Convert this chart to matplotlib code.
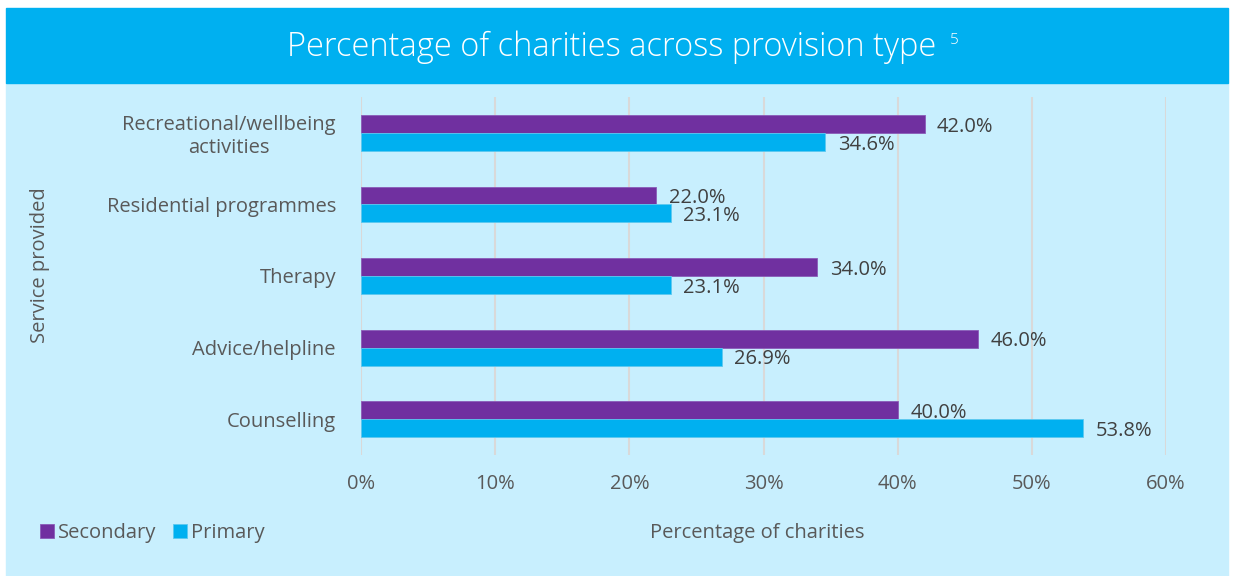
import matplotlib as mpl
import matplotlib.pyplot as plt
import numpy as np
from matplotlib.patches import Rectangle

mpl.rcParams["font.family"] = ["Open Sans", "DejaVu Sans"]

# -------------------------------------
# Data
# -------------------------------------

services = [
    "Recreational/wellbeing\nactivities",
    "Residential programmes",
    "Therapy",
    "Advice/helpline",
    "Counselling",
]
secondary = [42.0, 22.0, 34.0, 46.0, 40.0]
primary = [34.6, 23.1, 23.1, 26.9, 53.8]
xticks = [0, 10, 20, 30, 40, 50, 60]

PURPLE = "#7030A0"
CYAN = "#00B0F0"
PANEL = "#C8EFFE"
GREY = "#595959"
FS = 14.5

# -------------------------------------
# Plotting
# -------------------------------------

fig = plt.figure(figsize=(12.33, 5.76), dpi=100)
fig.patch.set_facecolor("white")

# panel + title banner
fig.patches.append(Rectangle((6 / 1233, 0.0), 1222 / 1233, 493 / 576,
                             transform=fig.transFigure, color=PANEL, zorder=-10))
fig.patches.append(Rectangle((6 / 1233, 493 / 576), 1222 / 1233, 75 / 576,
                             transform=fig.transFigure, color=CYAN, zorder=-10))
fig.text(612 / 1233, 0.918, "Percentage of charities across provision type",
         color="white", fontsize=23.5, ha="center", va="center",
         fontweight="light")
fig.text(950 / 1233, 0.930, "5", color="white", fontsize=11,
         ha="left", va="center", fontweight="light")

ax = fig.add_axes([361 / 1233, 121 / 576, 805 / 1233, 358 / 576])
ax.set_facecolor("none")

y = np.arange(len(services))
h = 0.25
b1 = ax.barh(y - h / 2, secondary, height=h, color=PURPLE, label="Secondary",
             edgecolor="#8A5CB8", linewidth=0.6, zorder=3)
b2 = ax.barh(y + h / 2, primary, height=h, color=CYAN, label="Primary",
             edgecolor="#5CC8F0", linewidth=0.6, zorder=3)

for bars, vals in [(b1, secondary), (b2, primary)]:
    for bar, v in zip(bars, vals):
        ax.annotate(f"{v:.1f}%", (v, bar.get_y() + bar.get_height() / 2),
                    xytext=(9, -2), textcoords="offset points",
                    va="center", ha="left", fontsize=FS, color="#404040")

ax.set_ylim(len(services) - 0.5, -0.5)
ax.set_xlim(0, 60)
ax.set_xticks(xticks)
ax.set_xticklabels([f"{t}%" for t in xticks], fontsize=FS, color=GREY)
ax.set_yticks(y)
ax.set_yticklabels(services, fontsize=FS, color=GREY, ha="right",
                   multialignment="center")
ax.tick_params(axis="y", length=0, pad=18)
ax.tick_params(axis="x", length=0, pad=14)
ax.grid(axis="x", color="#D9D9D9", linewidth=1.5, zorder=0)
for s in ax.spines.values():
    s.set_visible(False)

fig.text(40 / 1233, 1 - 265 / 576, "Service provided", rotation=90,
         fontsize=FS, color=GREY, ha="center", va="center")
fig.text(757 / 1233, 1 - 533 / 576, "Percentage of charities",
         fontsize=FS, color=GREY, ha="center", va="center")

fig.legend(handles=[b1, b2], loc="center left",
           bbox_to_anchor=(22 / 1233, 1 - 533 / 576), ncol=2, frameon=False,
           fontsize=FS, labelcolor=GREY, handlelength=0.7, handleheight=0.7,
           handletextpad=0.2, columnspacing=0.8)

fig.savefig("out.png", dpi=100)
